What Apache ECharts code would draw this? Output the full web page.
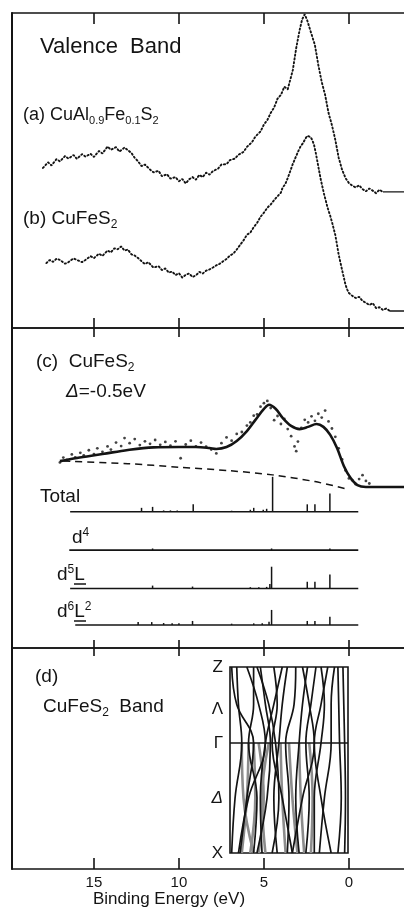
<!DOCTYPE html>
<html>
<head>
<meta charset="utf-8">
<script src="https://cdn.jsdelivr.net/npm/echarts@6/dist/echarts.min.js"></script>
<style>
  html, body { margin: 0; padding: 0; background: #fff; }
  #chart { width: 404px; height: 917px; }
</style>
</head>
<body>
<div id="chart"></div>
<script>
// ---- data ----------------------------------------------------------------
// binding-energy ticks (eV)
const energyTicks = [0, 5, 10, 15];

// (a) CuAl0.9Fe0.1S2 photoemission valence band: [binding energy eV, intensity a.u.]
const specA = [
  [18.0, 50.8], [17.7, 52.6], [17.5, 51.6], [17.2, 53.6], [17.0, 52.9], [16.7, 54.6],
  [16.5, 53.8], [16.2, 54.9], [16.0, 53.7], [15.7, 55.2], [15.5, 54.4], [15.2, 55.3],
  [15.0, 54.3], [14.7, 56.2], [14.5, 55.4], [14.2, 57.6], [14.0, 56.6], [13.7, 57.4],
  [13.5, 56.0], [13.2, 57.3], [13.0, 56.4], [12.8, 55.6], [12.6, 54.0], [12.4, 52.9],
  [12.2, 51.4], [12.0, 51.9], [11.7, 50.3], [11.5, 49.4], [11.2, 49.9], [11.0, 48.2],
  [10.7, 48.8], [10.5, 47.4], [10.2, 47.9], [10.0, 46.6], [9.8, 47.3], [9.6, 45.9],
  [9.4, 47.2], [9.2, 47.9], [9.0, 47.1], [8.8, 48.6], [8.6, 47.9], [8.4, 49.3],
  [8.2, 48.7], [8.0, 49.8], [7.7, 50.6], [7.5, 51.9], [7.2, 52.0], [7.0, 53.3],
  [6.7, 53.8], [6.5, 55.0], [6.2, 55.9], [6.0, 57.5], [5.7, 59.0], [5.5, 60.8],
  [5.2, 62.4], [5.0, 64.6], [4.8, 66.0], [4.6, 68.3], [4.4, 70.0], [4.2, 72.8],
  [4.0, 74.0], [3.8, 76.6], [3.6, 75.8], [3.5, 77.8], [3.3, 81.9], [3.1, 88.9],
  [2.9, 94.6], [2.75, 98.0], [2.6, 99.6], [2.45, 97.6], [2.3, 95.0], [2.15, 92.4],
  [2.0, 89.8], [1.8, 83.5], [1.6, 78.1], [1.4, 74.0], [1.2, 68.3], [1.0, 64.4],
  [0.8, 59.7], [0.6, 54.0], [0.4, 50.2], [0.2, 47.6], [0.0, 46.0], [-0.2, 45.2],
  [-0.4, 44.6], [-0.6, 45.3], [-0.8, 44.1], [-1.0, 43.4], [-1.2, 44.3], [-1.4, 43.6],
  [-1.6, 42.8], [-1.8, 43.9], [-2.0, 43.2]
];
const specATail = [[-2.0, 43.2], [-3.3, 43.2]];

// (b) CuFeS2 photoemission valence band
const specB = [
  [17.8, 20.6], [17.6, 21.6], [17.4, 21.0], [17.2, 22.0], [17.0, 21.6], [16.7, 20.4],
  [16.5, 20.9], [16.2, 22.1], [16.0, 21.6], [15.7, 20.9], [15.5, 21.6], [15.2, 22.8],
  [15.0, 22.2], [14.7, 23.6], [14.5, 22.9], [14.2, 24.6], [14.0, 24.0], [13.8, 25.3],
  [13.6, 25.0], [13.4, 25.9], [13.2, 24.6], [13.0, 24.9], [12.8, 23.4], [12.6, 23.0],
  [12.4, 22.2], [12.2, 21.2], [12.0, 20.3], [11.8, 20.9], [11.5, 19.2], [11.2, 19.6],
  [11.0, 18.4], [10.8, 18.9], [10.6, 17.6], [10.4, 17.9], [10.2, 16.8], [10.0, 17.4],
  [9.8, 16.0], [9.6, 16.9], [9.4, 17.3], [9.2, 16.2], [9.0, 16.7], [8.8, 17.8],
  [8.6, 17.3], [8.4, 18.2], [8.2, 18.6], [8.0, 19.2], [7.8, 19.9], [7.6, 20.4],
  [7.4, 21.2], [7.2, 21.9], [7.0, 23.0], [6.8, 23.6], [6.6, 24.9], [6.4, 26.4],
  [6.2, 27.8], [6.0, 29.6], [5.8, 30.3], [5.6, 32.0], [5.4, 33.4], [5.2, 35.3],
  [5.0, 36.6], [4.8, 38.2], [4.6, 39.2], [4.4, 40.6], [4.2, 41.8], [4.0, 43.0],
  [3.9, 44.6], [3.75, 45.6], [3.6, 47.6], [3.45, 49.8], [3.3, 52.1], [3.15, 54.0],
  [3.0, 55.9], [2.85, 57.6], [2.7, 58.7], [2.55, 60.2], [2.45, 61.0], [2.35, 61.4],
  [2.25, 60.6], [2.15, 59.6], [2.05, 58.1], [1.95, 55.6], [1.85, 52.7], [1.75, 49.8],
  [1.65, 47.0], [1.55, 44.6], [1.45, 42.2], [1.35, 40.2], [1.25, 38.1], [1.1, 35.6],
  [1.0, 33.7], [0.9, 31.6], [0.8, 29.5], [0.7, 26.4], [0.6, 23.2], [0.5, 20.8],
  [0.4, 18.4], [0.3, 16.0], [0.2, 13.7], [0.1, 12.2], [0.0, 11.1], [-0.2, 10.2],
  [-0.4, 9.5], [-0.6, 9.9], [-0.8, 8.6], [-1.0, 8.0], [-1.2, 7.3], [-1.4, 7.9],
  [-1.6, 6.3], [-1.8, 6.6], [-2.0, 5.7], [-2.2, 6.2], [-2.4, 5.4]
];
const specBTail = [[-2.4, 5.4], [-3.3, 5.4]];

// (c) CuFeS2 measured spectrum (dots), cluster-model fit (solid) and background (dashed)
const expC = [
  [17.0, 58.0], [16.8, 59.5], [16.6, 58.8], [16.3, 60.5], [16.1, 59.6], [15.8, 61.0],
  [15.6, 60.2], [15.3, 61.8], [15.0, 60.6], [14.8, 62.4], [14.5, 61.3], [14.2, 63.0],
  [14.0, 62.0], [13.7, 64.2], [13.4, 63.1], [13.2, 65.6], [12.9, 64.0], [12.6, 65.3],
  [12.3, 63.4], [12.0, 64.6], [11.7, 63.8], [11.4, 65.0], [11.1, 63.5], [10.8, 64.4],
  [10.5, 63.2], [10.2, 64.6], [9.9, 59.3], [9.6, 63.6], [9.3, 64.8], [9.0, 63.0],
  [8.7, 64.2], [8.4, 62.9], [8.1, 62.0], [7.8, 60.8], [7.5, 64.0], [7.2, 65.8],
  [6.9, 64.8], [6.6, 66.9], [6.3, 67.5], [6.0, 69.5], [5.8, 70.5], [5.6, 72.6],
  [5.4, 73.0], [5.2, 75.4], [5.0, 76.5], [4.8, 77.2], [4.6, 75.0], [4.4, 71.2],
  [4.2, 72.5], [4.0, 70.0], [3.8, 71.6], [3.6, 68.4], [3.4, 66.2], [3.2, 63.0],
  [3.1, 61.5], [3.0, 64.5], [2.8, 68.8], [2.6, 71.3], [2.4, 70.5], [2.2, 72.4],
  [2.0, 71.0], [1.8, 73.2], [1.6, 72.0], [1.4, 74.2], [1.2, 70.8], [1.0, 68.6],
  [0.8, 66.0], [0.6, 62.4], [0.4, 58.9], [0.2, 55.5], [0.0, 53.0], [-0.2, 52.4],
  [-0.4, 51.2], [-0.6, 52.8], [-0.8, 54.0], [-1.0, 52.2], [-1.2, 51.4]
];
const fitC = [
  [17.0, 58.4], [16.0, 59.4], [14.5, 60.6], [13.0, 61.9], [11.5, 62.7], [10.0, 62.8],
  [9.0, 62.8], [8.2, 62.5], [7.8, 62.2], [7.2, 62.8], [6.6, 64.7], [6.0, 67.8],
  [5.5, 71.3], [5.0, 74.7], [4.7, 76.0], [4.3, 74.7], [3.9, 71.9], [3.4, 69.4],
  [2.9, 68.4], [2.4, 69.1], [1.9, 70.0], [1.5, 69.1], [1.1, 66.6], [0.7, 62.5],
  [0.3, 56.9], [-0.1, 53.1], [-0.5, 50.9], [-1.0, 50.3], [-3.3, 50.3]
];
const backgroundC = [
  [16.8, 58.4], [13.0, 57.6], [10.0, 56.5], [7.0, 55.4], [4.5, 54.1], [2.0, 52.0], [0.2, 49.8]
];

// calculated line spectra: [energy eV, weight]
const sticksTotal = [
  [12.2, 1.2], [11.55, 1.5], [10.9, 0.4], [10.5, 0.4], [10.1, 0.4], [9.16, 2.3],
  [6.9, 0.3], [5.8, 0.6], [5.6, 1.2], [5.04, 0.6], [4.84, 0.9], [4.49, 10.9],
  [2.45, 2.3], [2.0, 2.3], [1.12, 5.7]
];
const sticksD4 = [[11.55, 0.5], [4.55, 0.5], [1.12, 0.5]];
const sticksD5L = [
  [11.55, 0.9], [9.2, 0.6], [5.8, 0.4], [5.3, 0.4], [4.84, 0.5], [4.65, 1.4],
  [4.55, 6.8], [2.45, 2.1], [2.0, 2.1], [1.12, 4.4]
];
const sticksD6L2 = [
  [12.4, 0.9], [11.6, 0.9], [10.9, 0.6], [10.4, 0.5], [10.0, 0.5], [9.2, 1.25],
  [6.9, 0.4], [5.6, 0.5], [5.1, 0.5], [4.7, 1.0], [4.55, 4.7], [2.45, 1.25],
  [2.0, 1.25], [1.12, 2.6]
];

// (d) band structure along Z - Λ - Γ - Δ - X
const kNames = ['X', 'Δ', 'Γ', 'Λ', 'Z'];
const kTicks = [0, 0.5, 1, 1.31, 1.69];
const kPathFull = [1.69, 1.35, 1.0, 0.5, 0];   // Z → Γ → X
const kPathHalf = [1.0, 0.5, 0];               // Γ → X
// energies (eV) of each band at the k points above
const bandsBlack = [
  [6.6, 6.5, 6.3, 6.7, 6.9],
  [6.0, 5.3, 4.9, 5.9, 6.5],
  [5.6, 5.6, 5.9, 5.4, 5.6],
  [5.4, 4.7, 4.3, 4.1, 4.5],
  [3.9, 4.4, 4.9, 5.2, 5.1],
  [3.6, 3.9, 4.1, 4.4, 4.2],
  [2.7, 2.3, 2.0, 2.7, 3.3],
  [1.2, 1.6, 2.0, 1.6, 1.0],
  [2.4, 2.7, 2.9, 3.1, 2.9],
  [1.9, 2.2, 2.5, 2.3, 2.5],
  [1.6, 1.4, 1.6, 2.0, 2.0],
  [0.8, 1.0, 1.0, 1.4, 1.7],
  [0.6, 0.55, 0.5, 0.4, 0.6],
  [6.9, 6.6, 5.6, 6.0, 6.4],
  [3.1, 3.2, 3.7, 3.5, 3.6],
  [5.2, 4.9, 4.6, 4.8, 5.4],
  [4.4, 4.2, 4.5, 3.9, 3.3],
  [0.3, 0.25, 0.2, 0.15, 0.2]
];
const bandsGrey = [
  [5.9, 6.0, 6.3],
  [5.6, 5.5, 5.8],
  [5.3, 5.0, 5.3],
  [4.7, 5.1, 4.9],
  [4.0, 3.9, 3.7],
  [3.5, 3.3, 3.0],
  [2.9, 2.8, 2.6],
  [2.3, 2.1, 2.2],
  [6.3, 6.2, 5.6]
];

// ---- layout ----------------------------------------------------------------
const INK = '#141414';
const FONT = 'Liberation Sans, DejaVu Sans, sans-serif';
const E_MIN = -3.24, E_MAX = 19.82;           // visible energy window (right → left)
const stickRows = [                             // baseline level and extent of each line spectrum
  { data: sticksTotal, base: 42.6, from: 16.4, to: -0.55 },
  { data: sticksD4,    base: 30.6, from: 16.45, to: -0.55 },
  { data: sticksD5L,   base: 18.6, from: 16.4, to: -0.55 },
  { data: sticksD6L2,  base: 7.2,  from: 16.1, to: -0.55 }
];

function energyAxis(gridIndex, position, tickLen, extra) {
  return Object.assign({
    type: 'value', gridIndex, position, inverse: true, min: E_MIN, max: E_MAX,
    axisLine: { show: true, onZero: false, lineStyle: { color: INK, width: 1.6 } },
    axisTick: { show: true, inside: true, length: tickLen, customValues: energyTicks,
                lineStyle: { color: INK, width: 1.6 } },
    axisLabel: { show: false },
    splitLine: { show: false }
  }, extra || {});
}
function plainY(gridIndex) {
  return {
    type: 'value', gridIndex, min: 0, max: 100, position: 'left',
    axisLine: { show: true, onZero: false, lineStyle: { color: INK, width: 2 } },
    axisTick: { show: false }, axisLabel: { show: false }, splitLine: { show: false }
  };
}

const series = [];
// (a) and (b)
[[specA, specATail], [specB, specBTail]].forEach(([pts, tail]) => {
  series.push({
    type: 'line', xAxisIndex: 0, yAxisIndex: 0, data: pts, showSymbol: false, smooth: false,
    lineStyle: { color: INK, width: 1.9, type: [1.3, 2.5], cap: 'round' }
  });
  series.push({
    type: 'line', xAxisIndex: 0, yAxisIndex: 0, data: tail, showSymbol: false,
    lineStyle: { color: INK, width: 1.3 }
  });
});
// (c) fit, background, measured points
series.push({
  type: 'line', xAxisIndex: 2, yAxisIndex: 1, data: fitC, showSymbol: false, smooth: 0.35,
  lineStyle: { color: INK, width: 2.6 }
});
series.push({
  type: 'line', xAxisIndex: 2, yAxisIndex: 1, data: backgroundC, showSymbol: false, smooth: 0.3,
  lineStyle: { color: INK, width: 1.5, type: [7, 5] }
});
series.push({
  type: 'scatter', xAxisIndex: 2, yAxisIndex: 1, data: expC, symbolSize: 2.8,
  itemStyle: { color: INK }
});
// (c) line spectra
stickRows.forEach(row => {
  series.push({
    type: 'line', xAxisIndex: 2, yAxisIndex: 1, showSymbol: false,
    data: [[row.from, row.base], [row.to, row.base]],
    lineStyle: { color: INK, width: 1.6 }
  });
  series.push({
    type: 'custom', xAxisIndex: 2, yAxisIndex: 1, data: row.data,
    renderItem: (params, api) => {
      const e = api.value(0);
      const p0 = api.coord([e, row.base]);
      const p1 = api.coord([e, row.base + api.value(1)]);
      return { type: 'line', shape: { x1: p0[0], y1: p0[1], x2: p1[0], y2: p1[1] },
               style: { stroke: INK, lineWidth: 1.5 } };
    }
  });
});
// (d) bands
bandsGrey.forEach(b => {
  series.push({
    type: 'line', xAxisIndex: 6, yAxisIndex: 3, showSymbol: false, smooth: 0.4,
    data: b.map((e, i) => [e, kPathHalf[i]]),
    lineStyle: { color: '#8c8c8c', width: 2.6 }
  });
});
bandsBlack.forEach((b, idx) => {
  const s = {
    type: 'line', xAxisIndex: 6, yAxisIndex: 3, showSymbol: false, smooth: 0.4,
    data: b.map((e, i) => [e, kPathFull[i]]),
    lineStyle: { color: INK, width: 1.7 }
  };
  if (idx === 0) {
    s.markLine = { silent: true, symbol: 'none', label: { show: false },
                   lineStyle: { color: INK, width: 1.6, type: 'solid' },
                   data: [{ yAxis: 1 }] };
  }
  series.push(s);
});

// text styles
const base = { fontFamily: FONT, fill: INK };
const rich = (size) => ({
  n:   { fontSize: size, fontFamily: FONT, color: INK },
  sub: { fontSize: Math.round(size * 0.62), fontFamily: FONT, color: INK, padding: [11, 0, 0, 0] },
  sup: { fontSize: Math.round(size * 0.62), fontFamily: FONT, color: INK, padding: [0, 0, 11, 0] },
  it:  { fontSize: size, fontFamily: FONT, color: INK, fontStyle: 'italic' }
});
function label(x, y, text, size) {
  return { type: 'text', x, y, silent: true,
           style: Object.assign({}, base, { text, rich: rich(size), verticalAlign: 'middle', align: 'left' }) };
}
function underline(x1, x2, y) {
  return { type: 'line', silent: true, shape: { x1, y1: y, x2, y2: y }, style: { stroke: INK, lineWidth: 1.5 } };
}

const option = {
  animation: false,
  backgroundColor: '#fff',
  grid: [
    { left: 12, right: 0, top: 13, height: 315 },
    { left: 12, right: 0, top: 328, height: 320 },
    { left: 12, right: 0, top: 648, height: 221 },
    { left: 230, width: 118, top: 667, height: 186, show: true, borderColor: INK, borderWidth: 1.6,
      backgroundColor: 'transparent' }
  ],
  xAxis: [
    energyAxis(0, 'top', 11),
    energyAxis(0, 'bottom', 10),
    energyAxis(1, 'top', 9),
    energyAxis(1, 'bottom', 8),
    energyAxis(2, 'top', 8),
    energyAxis(2, 'bottom', 11, {
      axisLabel: { show: true, customValues: energyTicks, fontSize: 15, margin: 6,
                   color: INK, fontFamily: FONT },
      name: 'Binding Energy (eV)', nameLocation: 'middle', nameGap: 21,
      nameTextStyle: { fontSize: 17, color: INK, fontFamily: FONT, padding: [0, 78, 0, 0] }
    }),
    { type: 'value', gridIndex: 3, inverse: true, min: 0, max: 7,
      axisLine: { show: false }, axisTick: { show: false }, axisLabel: { show: false },
      splitLine: { show: false } }
  ],
  yAxis: [
    plainY(0), plainY(1), plainY(2),
    { type: 'value', gridIndex: 3, min: 0, max: 1.69, position: 'left',
      axisLine: { show: false, onZero: false }, axisTick: { show: false }, splitLine: { show: false },
      axisLabel: {
        show: true, customValues: kTicks, margin: 7, showMinLabel: true, showMaxLabel: true,
        formatter: v => {
          let best = 0;
          kTicks.forEach((t, i) => { if (Math.abs(t - v) < Math.abs(kTicks[best] - v)) best = i; });
          const name = kNames[best];
          return name === 'Δ' ? '{it|Δ}' : '{n|' + name + '}';
        },
        rich: rich(17)
      } }
  ],
  series,
  graphic: [
    label(40, 47, '{n|Valence  Band}', 22),
    label(23, 115, '{n|(a) CuAl}{sub|0.9}{n|Fe}{sub|0.1}{n|S}{sub|2}', 18),
    label(23, 219, '{n|(b) CuFeS}{sub|2}', 19),
    label(36, 362, '{n|(c)  CuFeS}{sub|2}', 19),
    label(66, 392, '{it|Δ}{n|=-0.5eV}', 19),
    label(40, 497, '{n|Total}', 19),
    label(72, 538, '{n|d}{sup|4}', 19),
    label(57, 575, '{n|d}{sup|5}{n|L}', 19),
    underline(74, 86, 584),
    label(57, 612, '{n|d}{sup|6}{n|L}{sup|2}', 19),
    underline(74, 86, 621),
    label(35, 677, '{n|(d)}', 19),
    label(43, 707, '{n|CuFeS}{sub|2}{n|  Band}', 19)
  ]
};

const chart = echarts.init(document.getElementById('chart'), null, { renderer: 'canvas' });
chart.setOption(option);
</script>
</body>
</html>
